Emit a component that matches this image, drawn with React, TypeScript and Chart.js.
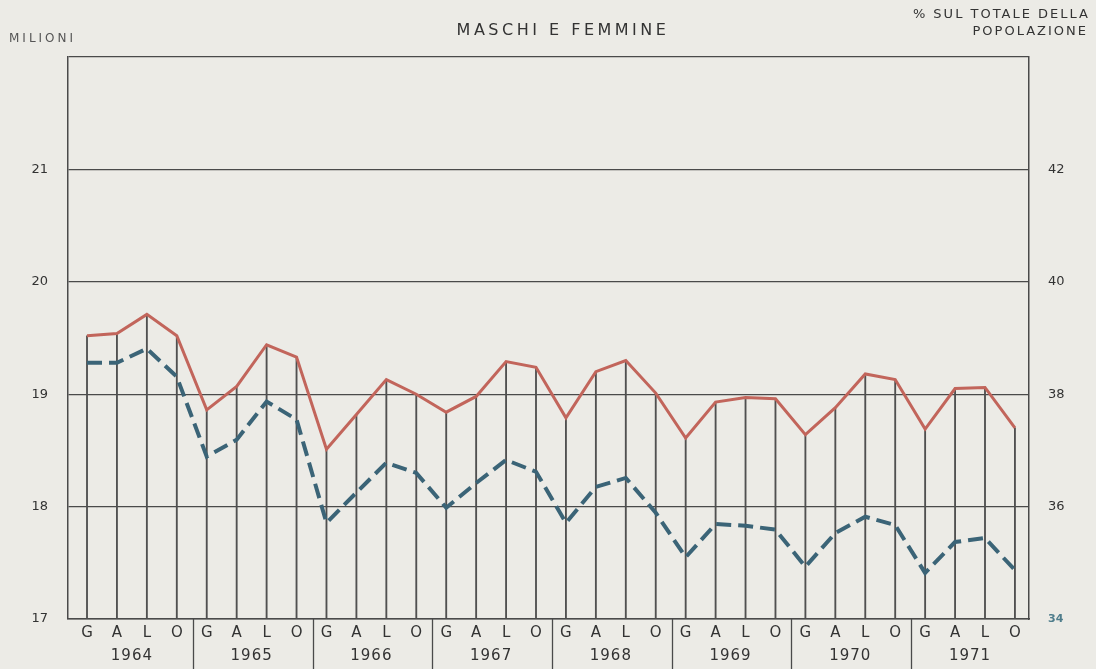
import React, { useEffect, useRef } from 'react';
import { Chart, registerables } from 'chart.js';

Chart.register(...registerables);

const years = ['1964', '1965', '1966', '1967', '1968', '1969', '1970', '1971'];
const quarters = ['G', 'A', 'L', 'O'];
const categories = years.flatMap((y) => quarters.map((q) => `${q} ${y}`));

// Solid red line, left axis (milioni)
const milioni = [
  19.52, 19.54, 19.71, 19.52,
  18.86, 19.07, 19.44, 19.33,
  18.51, 18.82, 19.13, 19.0,
  18.84, 18.98, 19.29, 19.24,
  18.79, 19.2, 19.3, 19.01,
  18.61, 18.93, 18.97, 18.96,
  18.64, 18.88, 19.18, 19.13,
  18.69, 19.05, 19.06, 18.7,
];

// Dashed blue line, right axis (% sul totale della popolazione)
const percentuale = [
  38.56, 38.56, 38.81, 38.31,
  36.89, 37.19, 37.87, 37.55,
  35.71, 36.25, 36.78, 36.6,
  35.98, 36.42, 36.83, 36.62,
  35.71, 36.35, 36.51, 35.89,
  35.1, 35.69, 35.66, 35.59,
  34.93, 35.53, 35.82, 35.67,
  34.82, 35.37, 35.44, 34.87,
];

const leftTickLabels = [17, 18, 19, 20, 21];
const rightTickLabels = [34, 36, 38, 40, 42];

const RED = '#c2655b';
const BLUE = '#3b6477';
const INK = '#333333';
const GRID = '#4a4a4a';
const FONT = '"DejaVu Sans", sans-serif';

const backgroundPlugin = {
  id: 'bg',
  beforeDraw(chart: any) {
    const { ctx, width, height } = chart;
    ctx.save();
    ctx.fillStyle = '#ecebe6';
    ctx.fillRect(0, 0, width, height);
    ctx.restore();
  },
};

const textPlugin = {
  id: 'texts',
  afterDraw(chart: any) {
    const { ctx, chartArea, height } = chart;
    const xs = chart.scales.x;
    ctx.save();
    // year separators below axis
    ctx.strokeStyle = GRID;
    ctx.lineWidth = 1.3;
    for (let g = 1; g < years.length; g++) {
      const x = Math.round(xs.getPixelForValue(g * 4 - 0.5)) + 1.5;
      ctx.beginPath();
      ctx.moveTo(x, chartArea.bottom);
      ctx.lineTo(x, height);
      ctx.stroke();
    }
    // year labels
    ctx.fillStyle = INK;
    ctx.font = `15px ${FONT}`;
    (ctx as any).letterSpacing = '1px';
    ctx.textAlign = 'center';
    ctx.textBaseline = 'middle';
    years.forEach((y, g) => {
      const x = xs.getPixelForValue(g * 4 + 1.5);
      ctx.fillText(y, x, 656);
    });
    // title
    ctx.font = `16px ${FONT}`;
    (ctx as any).letterSpacing = '3.5px';
    ctx.fillStyle = INK;
    ctx.textAlign = 'center';
    ctx.fillText('MASCHI E FEMMINE', 563, 31);
    // left axis title
    ctx.font = `12px ${FONT}`;
    (ctx as any).letterSpacing = '3px';
    ctx.fillStyle = '#555';
    ctx.textAlign = 'left';
    ctx.fillText('MILIONI', 9, 39);
    // right axis title
    ctx.font = `13px ${FONT}`;
    (ctx as any).letterSpacing = '2px';
    ctx.fillStyle = INK;
    ctx.textAlign = 'right';
    ctx.fillText('% SUL TOTALE DELLA', 1090, 15);
    ctx.fillText('POPOLAZIONE', 1088, 32);
    ctx.restore();
  },
};

export default function App() {
  const ref = useRef<HTMLCanvasElement | null>(null);

  useEffect(() => {
    const canvas = ref.current;
    if (!canvas) return;
    const chart = new Chart(canvas, {
      type: 'line',
      data: {
        datasets: [
          {
            type: 'line',
            label: 'Milioni',
            data: milioni.map((v, i) => ({ x: i, y: v })),
            borderColor: RED,
            borderWidth: 3,
            pointRadius: 0,
            tension: 0,
            yAxisID: 'y',
            order: 1,
          },
          {
            type: 'line',
            label: '% sul totale della popolazione',
            data: percentuale.map((v, i) => ({ x: i, y: v })),
            borderColor: BLUE,
            borderWidth: 4,
            borderDash: [15, 7],
            pointRadius: 0,
            tension: 0,
            yAxisID: 'y1',
            order: 0,
          },
          {
            type: 'bar',
            label: 'linee',
            data: milioni.map((v, i) => ({ x: i, y: v })),
            backgroundColor: '#505050',
            barThickness: 1.2,
            base: 17,
            yAxisID: 'y',
            order: 2,
          } as any,
        ],
      },
      options: {
        animation: false,
        responsive: false,
        maintainAspectRatio: false,
        layout: { padding: { top: 57, left: 0, right: 0, bottom: 0 } },
        plugins: { legend: { display: false }, tooltip: { enabled: false }, title: { display: false } },
        scales: {
          x: {
            type: 'linear',
            offset: false,
            min: -0.635,
            max: 31.47,
            afterBuildTicks: (s: any) => {
              s.ticks = categories.map((_, i) => ({ value: i }));
            },
            afterFit: (s: any) => {
              s.height = 50;
            },
            ticks: {
              autoSkip: false,
              maxRotation: 0,
              padding: 5,
              color: INK,
              font: { family: FONT, size: 15 },
              callback: (v: any) => quarters[Number(v) % 4],
            },
            grid: { display: false, drawTicks: false, tickLength: 0, offset: false },
            border: { display: true, color: GRID, width: 1.5 },
          },
          y: {
            type: 'linear',
            position: 'left',
            min: 17,
            max: 22,
            afterBuildTicks: (s: any) => {
              s.ticks = [...leftTickLabels, 22].map((v) => ({ value: v }));
            },
            afterFit: (s: any) => {
              s.width = 68;
            },
            ticks: {
              padding: 20,
              color: INK,
              font: { family: FONT, size: 13 },
              callback: (v: any) => (leftTickLabels.includes(Number(v)) ? String(v) : ''),
            },
            grid: { color: GRID, lineWidth: 1.3, drawTicks: false },
            border: { display: true, color: GRID, width: 1.5 },
          },
          y1: {
            type: 'linear',
            position: 'right',
            min: 34,
            max: 44,
            afterBuildTicks: (s: any) => {
              s.ticks = [...rightTickLabels, 44].map((v) => ({ value: v }));
            },
            afterFit: (s: any) => {
              s.width = 67;
            },
            ticks: {
              padding: 11,
              color: (c: any) => (c.tick && c.tick.value === 34 ? '#4f7d8c' : INK),
              font: (c: any) =>
                c.tick && c.tick.value === 34
                  ? { family: FONT, size: 11, weight: 'bold' }
                  : { family: FONT, size: 13 },
              callback: (v: any) => (rightTickLabels.includes(Number(v)) ? String(v) : ''),
            },
            grid: { display: false },
            border: { display: true, color: GRID, width: 1.5 },
          },
        },
      } as any,
      plugins: [backgroundPlugin, textPlugin],
    });
    return () => chart.destroy();
  }, []);

  return (
    <div style={{ position: 'absolute', left: 0, top: 0, width: 1096, height: 669 }}>
      <canvas ref={ref} width={1096} height={669} style={{ display: 'block' }} />
    </div>
  );
}
